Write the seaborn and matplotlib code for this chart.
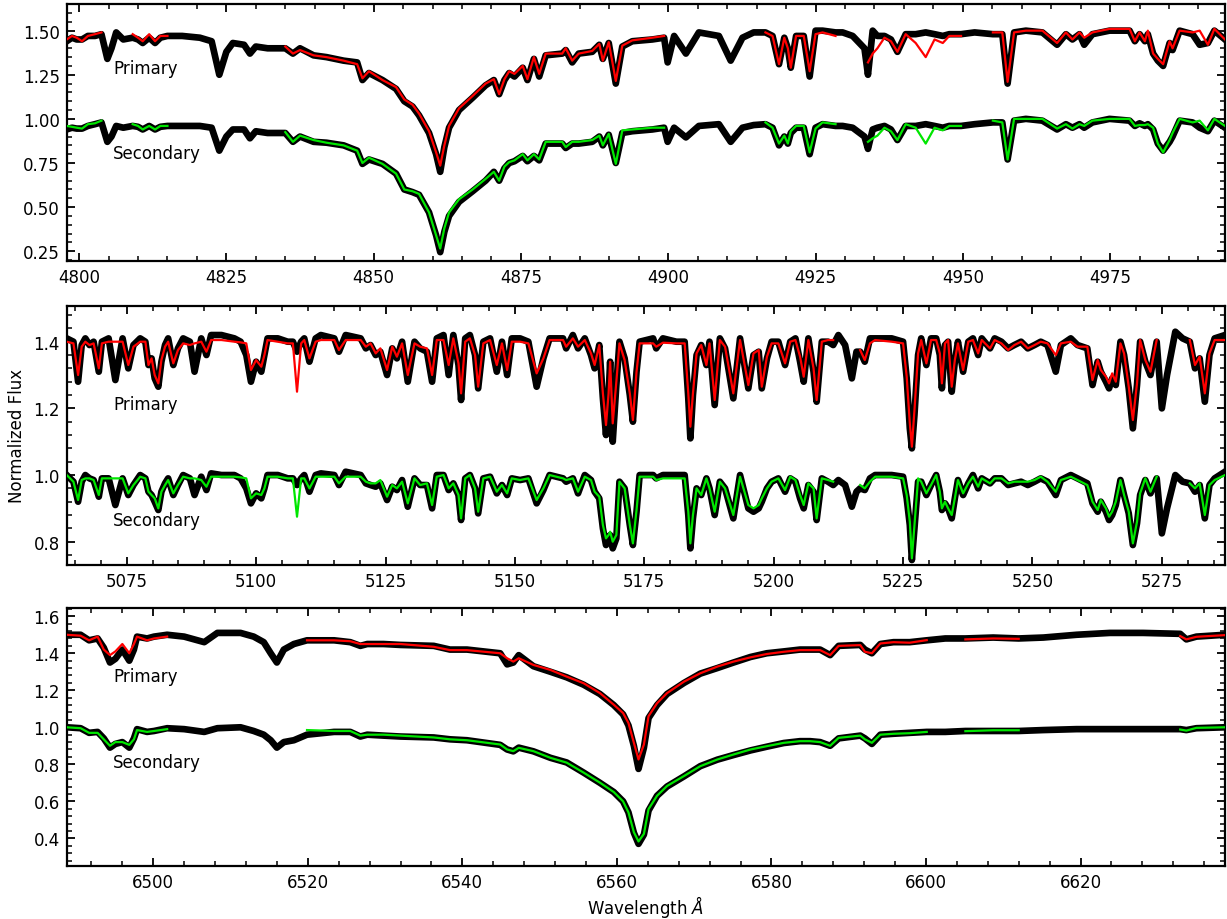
import numpy as np
import pandas as pd
import matplotlib
matplotlib.use("Agg")
import matplotlib.pyplot as plt
import seaborn as sns
from matplotlib.ticker import MultipleLocator, AutoMinorLocator

nan = np.nan

# ---------------- Panel 1 (H-beta region) ----------------
p1_wl = [
    4797.9, 4798.8, 4799.6, 4800.5, 4801.5, 4802.7, 4803.8, 4804.8, 4805.5, 4806.3,
    4807.5, 4809.1, 4810.0, 4810.8, 4811.9, 4812.9, 4813.8, 4815.0, 4817.5, 4820.5,
    4822.5, 4823.8, 4825.0, 4826.1, 4828.0, 4829.0, 4830.0, 4832.0, 4835.0, 4836.3,
    4837.5, 4839.8, 4842.0, 4844.9, 4847.2, 4848.1, 4849.2, 4851.5, 4853.8, 4855.2,
    4856.6, 4857.7, 4859.4, 4860.6, 4861.3, 4862.0, 4862.8, 4864.5, 4866.8, 4869.0,
    4870.4, 4871.3, 4872.2, 4873.0, 4873.9, 4875.3, 4876.1, 4877.2, 4878.1, 4879.2,
    4882.0, 4882.6, 4883.7, 4884.8, 4887.1, 4888.3, 4888.9, 4889.9, 4891.1, 4892.2,
    4893.9, 4897.3, 4899.3, 4899.9, 4901.0, 4903.0, 4905.2, 4908.6, 4910.6, 4912.6,
    4914.5, 4916.5, 4917.7, 4918.8, 4919.7, 4920.3, 4920.8, 4921.7, 4923.0, 4924.0,
    4925.0, 4926.2, 4928.4, 4929.6, 4931.3, 4933.3, 4933.9, 4934.7, 4935.5, 4936.7,
    4937.8, 4938.9, 4940.3, 4942.0, 4943.7, 4945.2, 4946.6, 4947.7, 4949.7, 4952.0,
    4955.1, 4956.7, 4957.6, 4958.7, 4960.7, 4963.5, 4966.0, 4967.5, 4968.6, 4969.8,
    4970.6, 4972.0, 4974.9, 4978.3, 4979.2, 4980.0, 4980.9, 4981.4, 4982.3, 4983.1,
    4984.0, 4985.1, 4985.6, 4986.8, 4989.0, 4990.2, 4991.6, 4992.7, 4994.5]
p1_obs_pri = [
    1.44, 1.46, 1.45, 1.45, 1.47, 1.47, 1.48, 1.34, 1.40, 1.49,
    1.45, 1.46, 1.45, 1.43, 1.46, 1.43, 1.46, 1.47, 1.47, 1.46,
    1.44, 1.25, 1.38, 1.43, 1.42, 1.37, 1.41, 1.40, 1.40, 1.37,
    1.40, 1.36, 1.35, 1.33, 1.32, 1.22, 1.26, 1.22, 1.17, 1.10,
    1.07, 1.02, 0.92, 0.80, 0.70, 0.84, 0.95, 1.05, 1.12, 1.19,
    1.22, 1.14, 1.22, 1.26, 1.24, 1.29, 1.22, 1.34, 1.24, 1.36,
    1.37, 1.39, 1.32, 1.37, 1.38, 1.42, 1.34, 1.43, 1.20, 1.41,
    1.44, 1.45, 1.46, 1.32, 1.47, 1.37, 1.49, 1.47, 1.33, 1.46,
    1.49, 1.49, 1.47, 1.31, 1.46, 1.40, 1.29, 1.47, 1.47, 1.24,
    1.50, 1.50, 1.49, 1.49, 1.47, 1.40, 1.25, 1.50, 1.47, 1.47,
    1.45, 1.38, 1.48, 1.48, 1.49, 1.48, 1.47, 1.48, 1.48, 1.49,
    1.48, 1.48, 1.20, 1.49, 1.50, 1.49, 1.42, 1.48, 1.45, 1.48,
    1.42, 1.48, 1.50, 1.50, 1.44, 1.48, 1.44, 1.48, 1.37, 1.33,
    1.30, 1.43, 1.39, 1.50, 1.48, 1.42, 1.43, 1.50, 1.45]
p1_obs_sec = [
    0.94, 0.95, 0.945, 0.945, 0.96, 0.97, 0.98, 0.87, 0.90, 0.96,
    0.95, 0.96, 0.955, 0.94, 0.96, 0.94, 0.955, 0.96, 0.96, 0.96,
    0.95, 0.82, 0.90, 0.94, 0.94, 0.89, 0.93, 0.92, 0.92, 0.87,
    0.90, 0.87, 0.865, 0.85, 0.82, 0.745, 0.77, 0.745, 0.69, 0.60,
    0.585, 0.57, 0.47, 0.34, 0.245, 0.36, 0.45, 0.53, 0.59, 0.65,
    0.70, 0.65, 0.72, 0.75, 0.76, 0.79, 0.76, 0.79, 0.765, 0.86,
    0.86, 0.835, 0.86, 0.86, 0.87, 0.90, 0.85, 0.91, 0.75, 0.92,
    0.93, 0.94, 0.95, 0.87, 0.95, 0.895, 0.96, 0.97, 0.87, 0.95,
    0.965, 0.97, 0.95, 0.85, 0.90, 0.86, 0.92, 0.95, 0.95, 0.80,
    0.95, 0.97, 0.96, 0.96, 0.95, 0.90, 0.83, 0.94, 0.95, 0.96,
    0.94, 0.88, 0.96, 0.96, 0.97, 0.96, 0.95, 0.96, 0.96, 0.97,
    0.98, 0.98, 0.77, 0.99, 1.00, 0.99, 0.94, 0.97, 0.95, 0.97,
    0.95, 0.98, 1.00, 0.99, 0.96, 0.975, 0.96, 0.97, 0.94, 0.86,
    0.82, 0.87, 0.90, 0.99, 0.98, 0.95, 0.93, 0.99, 0.95]
p1_mod_pri = [
    1.45, 1.47, 1.46, 1.44, 1.47, 1.48, 1.49, nan, nan, nan,
    nan, 1.48, 1.46, 1.44, 1.48, 1.44, 1.47, 1.47, nan, nan,
    nan, nan, nan, nan, nan, nan, nan, nan, 1.41, 1.37,
    1.39, 1.36, 1.35, 1.33, 1.31, 1.23, 1.27, 1.22, 1.18, 1.11,
    1.08, 1.03, 0.93, 0.81, 0.735, 0.85, 0.96, 1.06, 1.13, 1.20,
    1.225, 1.14, 1.225, 1.27, 1.255, 1.30, 1.225, 1.35, 1.255, 1.37,
    1.37, 1.40, 1.33, 1.37, 1.385, 1.425, 1.33, 1.435, 1.215, 1.415,
    1.445, 1.46, 1.47, nan, nan, nan, nan, nan, nan, nan,
    nan, 1.49, 1.47, 1.31, 1.46, 1.40, 1.29, 1.47, 1.47, 1.27,
    1.48, 1.49, 1.47, nan, nan, nan, 1.32, 1.37, 1.40, 1.46,
    1.44, 1.38, 1.48, 1.43, 1.35, 1.45, 1.43, 1.47, 1.47, nan,
    1.49, 1.49, 1.21, 1.49, 1.50, 1.50, 1.43, 1.49, 1.45, 1.49,
    1.46, 1.49, 1.51, 1.51, 1.44, 1.49, 1.44, 1.50, 1.37, 1.34,
    1.31, 1.44, 1.40, 1.50, 1.49, 1.50, 1.42, 1.51, 1.45]
p1_mod_sec = [
    0.96, 0.955, 0.95, 0.945, 0.97, 0.975, 0.99, nan, nan, nan,
    nan, 0.97, 0.96, 0.94, 0.96, 0.94, 0.96, 0.96, nan, nan,
    nan, nan, nan, nan, nan, nan, nan, nan, 0.925, 0.87,
    0.905, 0.88, 0.865, 0.85, 0.82, 0.75, 0.78, 0.745, 0.69, 0.60,
    0.59, 0.575, 0.47, 0.34, 0.265, 0.38, 0.47, 0.545, 0.60, 0.66,
    0.70, 0.65, 0.73, 0.755, 0.765, 0.80, 0.765, 0.80, 0.77, 0.87,
    0.87, 0.84, 0.87, 0.87, 0.88, 0.905, 0.85, 0.915, 0.745, 0.935,
    0.94, 0.95, 0.95, nan, nan, nan, nan, nan, nan, nan,
    nan, 0.98, 0.95, 0.86, 0.905, 0.86, 0.93, 0.96, 0.96, 0.81,
    0.945, 0.98, 0.97, nan, nan, nan, 0.87, 0.89, 0.905, 0.95,
    0.93, 0.88, 0.97, 0.95, 0.86, 0.95, 0.935, 0.96, 0.96, nan,
    0.99, 0.98, 0.77, 1.00, 1.00, 1.00, 0.945, 0.97, 0.945, 0.97,
    0.96, 0.99, 1.00, 1.00, 0.96, 0.965, 0.965, 0.97, 0.95, 0.86,
    0.81, 0.88, 0.92, 1.00, 0.98, 0.99, 0.935, 1.00, 0.96]

# ---------------- Panel 2 (Mg b region) ----------------
p2_wl = [
    5063.4, 5064.7, 5065.6, 5066.3, 5067.0, 5067.8, 5068.6, 5069.6, 5070.2, 5071.5,
    5072.8, 5074.2, 5075.3, 5076.3, 5077.6, 5078.6, 5079.2, 5079.8, 5080.4, 5081.1,
    5081.7, 5082.4, 5083.0, 5084.0, 5084.9, 5085.9, 5087.2, 5088.1, 5089.4, 5090.4,
    5091.3, 5093.3, 5095.8, 5097.0, 5098.1, 5099.0, 5100.0, 5101.0, 5101.6, 5102.2,
    5104.2, 5106.1, 5107.1, 5107.9, 5108.7, 5109.3, 5110.3, 5111.5, 5112.5, 5115.1,
    5116.0, 5117.3, 5120.2, 5121.2, 5122.1, 5123.1, 5124.0, 5125.3, 5126.3, 5127.2,
    5128.2, 5129.3, 5130.6, 5131.7, 5133.0, 5134.0, 5134.9, 5136.2, 5137.2, 5138.1,
    5139.1, 5139.6, 5140.4, 5141.3, 5142.3, 5142.9, 5143.9, 5145.2, 5146.5, 5147.5,
    5148.5, 5149.4, 5151.0, 5152.6, 5154.2, 5155.5, 5156.7, 5159.3, 5159.9, 5161.2,
    5162.2, 5163.5, 5164.7, 5165.4, 5166.3, 5167.0, 5167.6, 5168.1, 5168.4, 5168.9,
    5169.6, 5170.2, 5171.2, 5172.2, 5172.8, 5173.5, 5174.1, 5176.7, 5177.3, 5178.6,
    5181.2, 5182.8, 5183.5, 5183.9, 5184.4, 5185.1, 5186.0, 5187.0, 5187.6, 5188.6,
    5189.6, 5190.6, 5192.2, 5193.5, 5195.1, 5196.1, 5197.1, 5197.7, 5198.7, 5199.6,
    5200.9, 5202.2, 5203.2, 5204.2, 5205.1, 5205.8, 5206.7, 5207.7, 5208.3, 5209.3,
    5210.5, 5211.5, 5212.5, 5213.8, 5215.1, 5216.0, 5216.7, 5217.6, 5218.6, 5219.6,
    5222.8, 5225.0, 5225.7, 5226.3, 5226.7, 5227.2, 5227.9, 5228.5, 5229.5, 5230.4,
    5231.4, 5232.1, 5232.5, 5233.1, 5233.7, 5234.4, 5235.0, 5235.6, 5236.6, 5237.6,
    5238.5, 5239.5, 5240.2, 5241.8, 5242.7, 5244.0, 5245.3, 5246.5, 5247.8, 5249.1,
    5250.4, 5251.6, 5252.9, 5254.5, 5255.5, 5257.4, 5258.7, 5260.6, 5261.6, 5262.6,
    5263.2, 5264.2, 5264.8, 5265.4, 5266.1, 5267.0, 5267.7, 5268.6, 5269.4, 5270.2,
    5270.8, 5271.8, 5272.8, 5274.0, 5275.0, 5276.0, 5277.6, 5279.0, 5280.4, 5281.4,
    5282.3, 5283.3, 5284.2, 5285.2, 5287.2]
p2_obs_pri = [
    1.41, 1.40, 1.28, 1.39, 1.41, 1.39, 1.40, 1.31, 1.40, 1.41,
    1.285, 1.41, 1.32, 1.39, 1.41, 1.40, 1.33, 1.35, 1.29, 1.265,
    1.34, 1.39, 1.41, 1.33, 1.38, 1.41, 1.40, 1.31, 1.41, 1.36,
    1.42, 1.42, 1.41, 1.40, 1.36, 1.28, 1.34, 1.31, 1.36, 1.41,
    1.41, 1.40, 1.40, 1.37, 1.40, 1.41, 1.34, 1.41, 1.42, 1.41,
    1.37, 1.42, 1.41, 1.38, 1.39, 1.36, 1.37, 1.30, 1.38, 1.35,
    1.40, 1.28, 1.40, 1.38, 1.37, 1.28, 1.41, 1.42, 1.30, 1.42,
    1.33, 1.225, 1.41, 1.42, 1.36, 1.26, 1.40, 1.41, 1.31, 1.40,
    1.30, 1.41, 1.41, 1.40, 1.265, 1.35, 1.41, 1.41, 1.38, 1.42,
    1.38, 1.41, 1.36, 1.32, 1.39, 1.23, 1.12, 1.24, 1.34, 1.10,
    1.27, 1.40, 1.35, 1.24, 1.16, 1.31, 1.40, 1.41, 1.38, 1.41,
    1.40, 1.40, 1.23, 1.11, 1.24, 1.36, 1.39, 1.33, 1.40, 1.21,
    1.41, 1.38, 1.23, 1.41, 1.26, 1.36, 1.37, 1.26, 1.35, 1.40,
    1.40, 1.33, 1.40, 1.41, 1.34, 1.28, 1.41, 1.31, 1.22, 1.40,
    1.40, 1.39, 1.42, 1.39, 1.29, 1.37, 1.37, 1.34, 1.41, 1.41,
    1.41, 1.40, 1.29, 1.14, 1.08, 1.18, 1.36, 1.41, 1.33, 1.41,
    1.41, 1.36, 1.26, 1.39, 1.40, 1.25, 1.34, 1.40, 1.31, 1.40,
    1.41, 1.36, 1.41, 1.38, 1.41, 1.40, 1.38, 1.39, 1.40, 1.38,
    1.39, 1.40, 1.39, 1.31, 1.39, 1.41, 1.39, 1.38, 1.27, 1.34,
    1.31, 1.28, 1.26, 1.29, 1.27, 1.40, 1.36, 1.26, 1.14, 1.27,
    1.40, 1.34, 1.30, 1.40, 1.20, 1.30, 1.43, 1.41, 1.40, 1.32,
    1.35, 1.22, 1.36, 1.41, 1.42]
p2_obs_sec = [
    1.00, 0.98, 0.92, 0.98, 1.00, 0.99, 0.985, 0.935, 0.99, 0.99,
    0.91, 0.99, 0.94, 0.97, 1.00, 0.99, 0.95, 0.94, 0.92, 0.895,
    0.95, 0.975, 0.99, 0.94, 0.97, 1.00, 0.99, 0.94, 0.995, 0.955,
    1.005, 1.00, 1.00, 0.99, 0.96, 0.915, 0.945, 0.93, 0.96, 1.00,
    1.00, 0.99, 0.99, 0.97, 0.99, 1.00, 0.95, 1.00, 1.005, 1.00,
    0.97, 1.01, 1.00, 0.975, 0.97, 0.965, 0.975, 0.925, 0.965, 0.955,
    0.985, 0.905, 0.99, 0.97, 0.97, 0.90, 1.00, 1.00, 0.955, 0.975,
    0.94, 0.865, 0.99, 1.00, 0.96, 0.885, 0.99, 0.995, 0.945, 0.97,
    0.94, 0.99, 0.985, 0.99, 0.915, 0.955, 1.00, 0.99, 0.98, 0.99,
    0.945, 1.00, 0.985, 0.95, 0.93, 0.84, 0.79, 0.81, 0.82, 0.78,
    0.81, 0.98, 0.96, 0.85, 0.79, 0.89, 1.00, 1.00, 0.99, 1.00,
    1.00, 1.00, 0.88, 0.78, 0.87, 0.96, 0.94, 0.99, 0.96, 0.88,
    0.98, 0.96, 0.87, 1.00, 0.90, 0.89, 0.90, 0.92, 0.96, 0.98,
    0.99, 0.95, 0.99, 0.98, 0.93, 0.90, 0.97, 0.95, 0.865, 0.99,
    0.98, 0.97, 0.985, 0.97, 0.905, 0.95, 0.96, 0.955, 0.99, 1.00,
    1.00, 0.995, 0.93, 0.85, 0.745, 0.84, 0.98, 0.98, 0.94, 0.97,
    1.00, 0.95, 0.895, 0.915, 0.90, 0.87, 0.93, 0.985, 0.94, 0.975,
    1.00, 0.96, 0.99, 0.975, 0.99, 0.99, 0.97, 0.975, 0.98, 0.97,
    0.98, 0.99, 0.98, 0.94, 0.985, 1.00, 0.99, 0.975, 0.915, 0.89,
    0.92, 0.89, 0.865, 0.88, 0.91, 0.985, 0.94, 0.885, 0.79, 0.855,
    0.94, 0.985, 0.945, 0.99, 0.825, 0.90, 1.00, 0.98, 0.975, 0.95,
    0.97, 0.87, 0.97, 0.99, 1.01]
p2_mod_pri = [
    1.40, 1.395, 1.30, 1.385, 1.40, 1.39, 1.395, 1.32, 1.395, 1.40,
    1.40, 1.40, 1.33, 1.385, 1.40, 1.40, 1.33, 1.35, 1.30, 1.275,
    1.345, 1.385, 1.40, 1.335, 1.375, 1.395, 1.39, 1.395, 1.40, 1.37,
    1.405, 1.405, 1.40, 1.398, 1.395, 1.315, 1.345, 1.325, 1.36, 1.405,
    1.40, 1.395, 1.395, 1.25, 1.395, 1.405, 1.35, 1.40, 1.405, 1.405,
    1.375, 1.405, 1.405, 1.385, 1.395, 1.365, 1.38, 1.315, 1.385, 1.355,
    1.395, 1.30, 1.395, 1.385, 1.38, 1.30, 1.405, 1.405, 1.33, 1.41,
    1.335, 1.245, 1.40, 1.41, 1.36, 1.265, 1.395, 1.405, 1.33, 1.395,
    1.315, 1.40, 1.40, 1.395, 1.305, 1.35, 1.405, 1.405, 1.385, 1.41,
    1.385, 1.405, 1.365, 1.33, 1.39, 1.245, 1.15, 1.245, 1.34, 1.155,
    1.28, 1.395, 1.345, 1.245, 1.165, 1.31, 1.395, 1.395, 1.385, 1.397,
    1.395, 1.395, 1.245, 1.145, 1.245, 1.365, 1.39, 1.33, 1.395, 1.225,
    1.405, 1.385, 1.245, 1.405, 1.27, 1.365, 1.375, 1.265, 1.355, 1.395,
    1.395, 1.335, 1.40, 1.405, 1.355, 1.295, 1.405, 1.32, 1.225, 1.40,
    1.405, 1.405, nan, nan, nan, nan, 1.375, 1.345, 1.395, 1.405,
    1.40, 1.395, 1.295, 1.155, 1.085, 1.195, 1.365, 1.405, 1.335, 1.405,
    1.405, 1.365, 1.275, 1.395, 1.405, 1.265, 1.345, 1.395, 1.315, 1.40,
    1.405, 1.365, 1.405, 1.38, 1.405, 1.395, 1.375, 1.39, 1.40, 1.38,
    1.39, 1.40, 1.395, 1.36, 1.395, 1.40, 1.385, 1.385, 1.285, 1.345,
    1.315, 1.295, 1.275, 1.305, 1.28, 1.395, 1.365, 1.265, 1.165, 1.275,
    1.405, 1.345, 1.31, 1.405, nan, nan, nan, nan, 1.405, 1.33,
    1.355, 1.245, 1.365, 1.405, 1.405]
p2_mod_sec = [
    1.00, 0.98, 0.925, 0.985, 0.99, 0.99, 0.985, 0.94, 0.99, 0.99,
    0.99, 0.99, 0.945, 0.97, 0.995, 0.99, 0.95, 0.94, 0.93, 0.90,
    0.95, 0.97, 0.985, 0.945, 0.97, 0.995, 0.99, 0.99, 0.985, 0.965,
    0.995, 0.995, 0.995, 0.993, 0.99, 0.93, 0.945, 0.94, 0.96, 0.995,
    0.995, 0.99, 0.99, 0.875, 0.99, 0.99, 0.96, 0.995, 0.995, 0.995,
    0.975, 0.995, 0.995, 0.98, 0.975, 0.975, 0.985, 0.935, 0.97, 0.96,
    0.98, 0.915, 0.99, 0.97, 0.975, 0.91, 0.995, 1.00, 0.96, 0.975,
    0.94, 0.87, 0.99, 1.00, 0.96, 0.89, 0.99, 0.995, 0.95, 0.97,
    0.945, 0.99, 0.985, 0.99, 0.925, 0.96, 1.00, 0.99, 0.985, 0.99,
    0.95, 0.995, 0.985, 0.95, 0.935, 0.85, 0.81, 0.82, 0.83, 0.80,
    0.82, 0.98, 0.96, 0.85, 0.795, 0.895, 0.995, 0.995, 0.985, 0.99,
    0.99, 0.99, 0.89, 0.795, 0.88, 0.96, 0.94, 0.99, 0.96, 0.89,
    0.98, 0.96, 0.88, 0.995, 0.91, 0.90, 0.91, 0.93, 0.96, 0.98,
    0.99, 0.955, 0.995, 0.985, 0.94, 0.91, 0.975, 0.96, 0.87, 0.99,
    0.985, 0.98, nan, nan, nan, nan, 0.97, 0.96, 0.98, 0.995,
    0.995, 0.99, 0.94, 0.86, 0.75, 0.85, 0.99, 0.98, 0.945, 0.97,
    1.00, 0.95, 0.90, 0.92, 0.90, 0.88, 0.93, 0.985, 0.945, 0.975,
    0.995, 0.965, 0.99, 0.975, 0.99, 0.99, 0.975, 0.98, 0.98, 0.98,
    0.985, 0.995, 0.98, 0.95, 0.985, 0.995, 0.985, 0.97, 0.92, 0.895,
    0.925, 0.90, 0.875, 0.89, 0.92, 0.985, 0.94, 0.89, 0.795, 0.86,
    0.945, 0.99, 0.95, 0.995, nan, nan, nan, nan, 0.975, 0.96,
    0.975, 0.88, 0.97, 0.985, 1.00]

# ---------------- Panel 3 (H-alpha region) ----------------
p3_wl = [
    6488.8, 6490.6, 6491.7, 6492.8, 6493.6, 6494.4, 6495.1, 6496.0, 6496.9, 6497.5,
    6497.9, 6499.2, 6500.1, 6501.8, 6504.0, 6506.6, 6508.3, 6511.3, 6513.0, 6514.3,
    6515.2, 6516.0, 6516.9, 6518.2, 6519.9, 6523.4, 6525.5, 6526.8, 6527.7, 6529.8,
    6532.0, 6536.3, 6538.4, 6540.6, 6544.9, 6545.8, 6546.6, 6547.3, 6549.2, 6551.4,
    6553.5, 6555.7, 6557.8, 6559.6, 6560.8, 6561.5, 6562.2, 6562.8, 6563.5, 6564.1,
    6565.2, 6566.5, 6568.7, 6570.8, 6573.0, 6575.1, 6577.3, 6579.4, 6581.6, 6583.7,
    6585.0, 6586.3, 6587.6, 6588.7, 6591.5, 6592.1, 6593.0, 6594.1, 6595.8, 6597.9,
    6600.1, 6602.5, 6605.1, 6608.7, 6612.0, 6615.2, 6619.5, 6623.8, 6628.1, 6632.9,
    6633.7, 6635.0, 6638.7]
p3_obs_pri = [
    1.50, 1.50, 1.47, 1.48, 1.43, 1.35, 1.37, 1.42, 1.36, 1.42,
    1.49, 1.48, 1.49, 1.50, 1.49, 1.46, 1.51, 1.51, 1.49, 1.46,
    1.40, 1.35, 1.42, 1.45, 1.47, 1.47, 1.46, 1.44, 1.45, 1.45,
    1.445, 1.44, 1.42, 1.42, 1.40, 1.34, 1.35, 1.39, 1.33, 1.30,
    1.27, 1.23, 1.18, 1.12, 1.07, 1.01, 0.90, 0.775, 0.89, 1.05,
    1.12, 1.18, 1.24, 1.29, 1.32, 1.35, 1.38, 1.40, 1.41, 1.42,
    1.42, 1.42, 1.39, 1.44, 1.445, 1.42, 1.40, 1.45, 1.46, 1.46,
    1.47, 1.48, 1.48, 1.485, 1.48, 1.485, 1.50, 1.51, 1.51, 1.505,
    1.475, 1.49, 1.50]
p3_obs_sec = [
    1.00, 0.995, 0.97, 0.975, 0.94, 0.89, 0.91, 0.92, 0.89, 0.94,
    0.99, 0.975, 0.98, 0.995, 0.99, 0.975, 0.995, 1.00, 0.98, 0.96,
    0.93, 0.89, 0.92, 0.93, 0.96, 0.975, 0.975, 0.95, 0.96, 0.955,
    0.95, 0.945, 0.935, 0.93, 0.905, 0.88, 0.87, 0.89, 0.87, 0.835,
    0.81, 0.755, 0.70, 0.65, 0.60, 0.54, 0.43, 0.37, 0.42, 0.55,
    0.63, 0.68, 0.735, 0.79, 0.825, 0.85, 0.875, 0.895, 0.915, 0.925,
    0.925, 0.92, 0.90, 0.94, 0.955, 0.94, 0.91, 0.96, 0.965, 0.97,
    0.975, 0.975, 0.98, 0.98, 0.98, 0.985, 0.99, 0.99, 0.99, 0.99,
    0.985, 0.995, 1.00]
p3_mod_pri = [
    1.50, 1.495, 1.47, 1.49, 1.42, 1.39, 1.41, 1.45, 1.40, 1.45,
    1.49, 1.47, 1.48, 1.49, nan, nan, nan, nan, nan, nan,
    nan, nan, nan, nan, 1.47, 1.47, 1.465, 1.45, 1.45, 1.45,
    1.45, 1.435, 1.417, 1.417, 1.40, 1.373, 1.355, 1.373, 1.337, 1.31,
    1.274, 1.238, 1.185, 1.122, 1.077, 1.023, 0.916, 0.826, 0.907, 1.06,
    1.13, 1.185, 1.247, 1.292, 1.328, 1.355, 1.378, 1.396, 1.408, 1.417,
    1.417, 1.417, 1.39, 1.44, 1.444, 1.408, 1.40, 1.453, 1.46, 1.457,
    1.471, nan, 1.475, 1.48, 1.478, nan, nan, nan, nan, 1.493,
    1.475, 1.489, 1.498]
p3_mod_sec = [
    1.00, 0.995, 0.97, 0.97, 0.935, 0.90, 0.92, 0.92, 0.905, 0.935,
    0.985, 0.975, 0.98, 0.99, nan, nan, nan, nan, nan, nan,
    nan, nan, nan, nan, 0.985, 0.98, 0.98, 0.955, 0.96, 0.96,
    0.955, 0.945, 0.935, 0.93, 0.907, 0.88, 0.871, 0.889, 0.871, 0.835,
    0.809, 0.755, 0.701, 0.65, 0.60, 0.54, 0.433, 0.383, 0.424, 0.558,
    0.63, 0.683, 0.737, 0.79, 0.826, 0.853, 0.88, 0.898, 0.916, 0.925,
    0.925, 0.92, 0.90, 0.943, 0.955, 0.935, 0.916, 0.96, 0.965, 0.968,
    0.975, nan, 0.979, 0.984, 0.984, nan, nan, nan, nan, 0.988,
    0.982, 0.997, 1.00]

labels = ["Primary", "Secondary"]

panels = [
    dict(wl=p1_wl, obs=(p1_obs_pri, p1_obs_sec), mod=(p1_mod_pri, p1_mod_sec),
         xlim=(4797.9, 4994.5), ylim=(0.193, 1.651), xmaj=25, ymaj=0.25,
         txt_x=4805.8, txt_y=(1.287, 0.806), rect=(66.7, 5.0, 1225, 262.3)),
    dict(wl=p2_wl, obs=(p2_obs_pri, p2_obs_sec), mod=(p2_mod_pri, p2_mod_sec),
         xlim=(5063.4, 5287.2), ylim=(0.731, 1.508), xmaj=25, ymaj=0.2,
         txt_x=5072.4, txt_y=(1.213, 0.866), rect=(66.7, 306.7, 1225, 565.7)),
    dict(wl=p3_wl, obs=(p3_obs_pri, p3_obs_sec), mod=(p3_mod_pri, p3_mod_sec),
         xlim=(6488.8, 6638.7), ylim=(0.252, 1.643), xmaj=20, ymaj=0.2,
         txt_x=6494.8, txt_y=(1.276, 0.811), rect=(66.7, 609.3, 1225, 866.7)),
]


def seg_frame(wl, flux):
    wl = np.asarray(wl, float)
    f = np.asarray(flux, float)
    if len(wl) != len(f):
        raise ValueError(f"length mismatch {len(wl)} vs {len(f)}")
    gap = np.isnan(f)
    seg = np.cumsum(gap)
    keep = ~gap
    return pd.DataFrame({"wl": wl[keep], "flux": f[keep], "seg": seg[keep]})


W, H = 1227, 920
fig = plt.figure(figsize=(W / 100, H / 100), dpi=100)
plt.rcParams["font.family"] = ["DejaVu Sans"]

model_colors = ["#ff0000", "#00e600"]

for p in panels:
    x0, y0, x1, y1 = p["rect"]
    ax = fig.add_axes([x0 / W, 1 - y1 / H, (x1 - x0) / W, (y1 - y0) / H])
    for k in range(2):
        dfo = seg_frame(p["wl"], p["obs"][k])
        sns.lineplot(data=dfo, x="wl", y="flux", units="seg", estimator=None,
                     sort=False, color="black", linewidth=4.8, legend=False,
                     ax=ax, zorder=2, solid_joinstyle="round")
        dfm = seg_frame(p["wl"], p["mod"][k])
        sns.lineplot(data=dfm, x="wl", y="flux", units="seg", estimator=None,
                     sort=False, color=model_colors[k], linewidth=1.6,
                     legend=False, ax=ax, zorder=3)
        ax.text(p["txt_x"], p["txt_y"][k], labels[k], fontsize=12,
                ha="left", va="center", zorder=4)
    ax.set_xlim(*p["xlim"])
    ax.set_ylim(*p["ylim"])
    ax.xaxis.set_major_locator(MultipleLocator(p["xmaj"]))
    ax.yaxis.set_major_locator(MultipleLocator(p["ymaj"]))
    ax.xaxis.set_minor_locator(AutoMinorLocator(5))
    ax.yaxis.set_minor_locator(AutoMinorLocator(5))
    ax.tick_params(which="both", direction="in", top=True, right=True,
                   labelsize=12, pad=5)
    ax.tick_params(which="major", length=6, width=1.3)
    ax.tick_params(which="minor", length=3.5, width=1.1)
    for s in ax.spines.values():
        s.set_linewidth(1.6)
    ax.set_xlabel("")
    ax.set_ylabel("")

fig.text(17 / W, 1 - 436 / H, "Normalized Flux", rotation=90, ha="center",
         va="center", fontsize=12)
fig.text(646 / W, 1 - 907 / H, "Wavelength $\\AA$", ha="center", va="center",
         fontsize=12)

fig.savefig("out.png", dpi=100)
